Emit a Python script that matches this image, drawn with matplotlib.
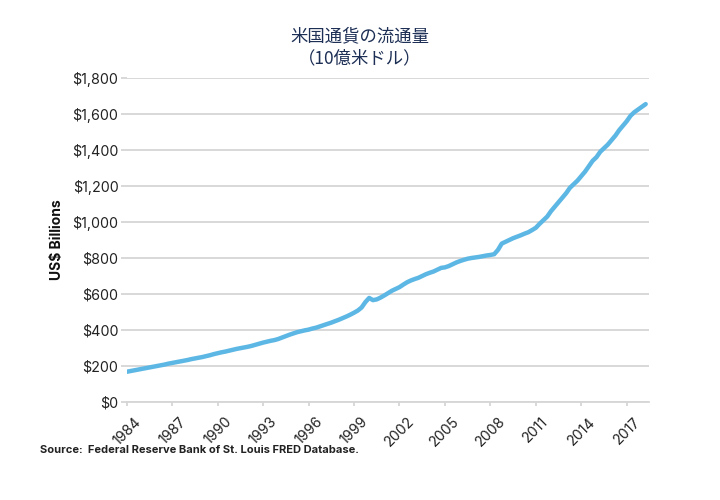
import numpy as np
import matplotlib
matplotlib.use("Agg")
import matplotlib.pyplot as plt

# ------------------------------------------------------------------
# Data: currency in circulation, quarterly, US$ billions
# ------------------------------------------------------------------
START_YEAR = 1984
currency = [
    168, 172, 176, 180,      # 1984
    184, 188, 192, 196,      # 1985
    200, 204, 208, 213,      # 1986
    217, 221, 225, 229,      # 1987
    233, 238, 242, 246,      # 1988
    250, 255, 260, 266,      # 1989
    271, 276, 280, 285,      # 1990
    290, 295, 299, 303,      # 1991
    307, 312, 318, 324,      # 1992
    330, 335, 340, 344,      # 1993
    350, 358, 366, 374,      # 1994
    381, 388, 393, 398,      # 1995
    402, 408, 413, 420,      # 1996
    427, 434, 441, 449,      # 1997
    457, 466, 475, 485,      # 1998
    496, 508, 525, 555,      # 1999
    578, 566, 570, 580,      # 2000
    592, 605, 618, 628,      # 2001
    638, 652, 665, 675,      # 2002
    683, 690, 700, 710,      # 2003
    718, 725, 735, 745,      # 2004
    748, 755, 765, 775,      # 2005
    783, 790, 796, 800,      # 2006
    803, 806, 810, 814,      # 2007
    817, 821, 845, 880,      # 2008
    890, 900, 910, 918,      # 2009
    926, 935, 943, 955,      # 2010
    968, 990, 1010, 1030,    # 2011
    1060, 1085, 1110, 1135,  # 2012
    1160, 1190, 1210, 1230,  # 2013
    1255, 1280, 1310, 1340,  # 2014
    1360, 1390, 1410, 1430,  # 2015
    1455, 1480, 1510, 1535,  # 2016
    1560, 1590, 1610, 1625,  # 2017
    1640, 1655,              # 2018
]
tick_years = list(range(1984, 2018, 3))
y_ticks = list(range(0, 1801, 200))

title = "米国通貨の流通量\n（10億米ドル）"
y_label = "US$ Billions"
source = "Source:  Federal Reserve Bank of St. Louis FRED Database."

years = START_YEAR + np.arange(len(currency)) / 4.0

# ------------------------------------------------------------------
# Chart
# ------------------------------------------------------------------
plt.rcParams['font.family'] = ['Inter', 'DejaVu Sans']

fig = plt.figure(figsize=(7.2, 5.0), dpi=100)
ax = fig.add_axes([0.176, 0.196, 0.725, 0.648])

ax.plot(years, currency, color='#5db7e4', linewidth=3.2,
        solid_capstyle='round', solid_joinstyle='round', zorder=3)

ax.set_xlim(1984, 2018.45)
ax.set_ylim(0, 1800)

ax.set_yticks(y_ticks)
ax.set_yticklabels([f"${v:,}" for v in y_ticks])
ax.set_xticks(tick_years)
ax.set_xticklabels([str(y) for y in tick_years], rotation=45, ha='center')

ax.yaxis.grid(True, color='#d6d6d6', linewidth=1.3)
ax.set_axisbelow(True)
for side in ['top', 'right', 'left']:
    ax.spines[side].set_visible(False)
ax.spines['bottom'].set_color('#d6d6d6')
ax.spines['bottom'].set_linewidth(1.3)

ax.tick_params(axis='y', length=4, color='#d6d6d6', width=1.3,
               labelsize=10.3, labelcolor='#222222', pad=2)
ax.tick_params(axis='x', length=3, color='#d6d6d6', width=1.3,
               labelsize=10.3, labelcolor='#222222', pad=6)

ax.set_ylabel(y_label, fontsize=10, fontweight='bold', color='#111111')
ax.yaxis.set_label_coords(-0.121, 0.5)

fig.text(0.5, 0.905, title, ha='center', va='center', fontsize=12.5,
         color='#1d2f55', linespacing=1.25,
         family=['Noto Sans CJK JP', 'DejaVu Sans'])

fig.text(0.055, 0.10, source, ha='left', va='center', fontsize=8.0,
         fontweight='bold', color='#222222')

plt.savefig("out.png", dpi=100)
